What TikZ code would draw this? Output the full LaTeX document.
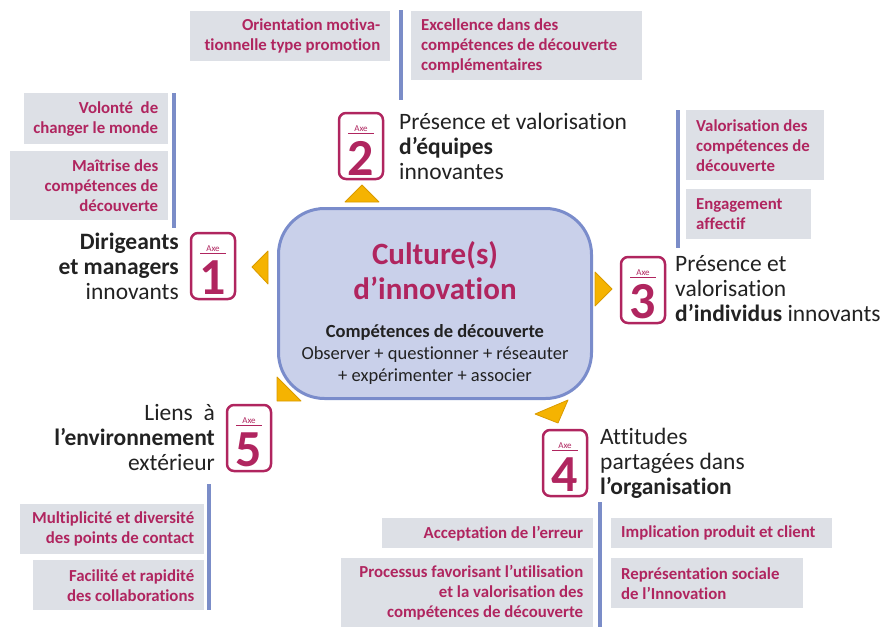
\documentclass[tikz,border=0pt]{standalone}
\usepackage{fontspec}
\setmainfont{Carlito}[Ligatures=CommonOff]
\usetikzlibrary{calc}

\definecolor{rasp}{HTML}{B0255F}
\definecolor{boxgrey}{HTML}{DDE0E6}
\definecolor{barblue}{HTML}{7B8DC8}
\definecolor{corefill}{HTML}{C9D0EA}
\definecolor{coreline}{HTML}{7A8CCB}
\definecolor{amber}{HTML}{F5B301}
\definecolor{amberdark}{HTML}{D99A00}
\definecolor{ink}{HTML}{222222}

\tikzset{
  gbox/.style={fill=boxgrey, inner sep=0pt, anchor=north west},
  gtext/.style={text=rasp, font=\bfseries\fontsize{16.8}{20}\selectfont, inner sep=0pt},
  bar/.style={draw=barblue, line width=4pt},
  axebox/.style={draw=rasp, line width=2.5pt, fill=white, rounded corners=7pt,
    minimum width=44pt, minimum height=66pt, inner sep=0pt},
  axetag/.style={text=rasp, font=\fontsize{9}{9}\selectfont, inner sep=0pt},
  axenum/.style={text=rasp, font=\bfseries\fontsize{52}{52}\selectfont, inner sep=0pt},
  axelabel/.style={text=ink, font=\fontsize{23.5}{25}\selectfont, inner sep=0pt},
  tri/.style={fill=amber, draw=amberdark, line width=0.8pt, line join=round},
  core/.style={draw=coreline, fill=corefill, line width=3pt, rounded corners=46pt,
    minimum width=313pt, minimum height=190pt, inner sep=0pt},
}

% axis badge: name, position, digit
\newcommand{\axeblock}[3]{%
  \node[axebox] (#1) at (#2) {};
  \node[axetag] (#1tag) at ($(#1.center)+(0,-17.5)$) {Axe};
  \draw[rasp, line width=0.8pt] ($(#1.center)+(-13,-12.5)$) coordinate (#1l) -- ($(#1.center)+(13,-12.5)$) coordinate (#1r);
  \node[axenum] (#1num) at ($(#1.center)+(0,12)$) {#3};
}
% grey factor box: name, top-left corner, width, height, text (right or left aligned)
\newcommand{\factorR}[5]{%
  \node[gbox, minimum width=#3pt, minimum height=#4pt] (#1) at (#2) {};
  \node[gtext, align=right, anchor=east] (#1t) at ($(#1.east)+(-10,0)$) {#5};
}
\newcommand{\factorL}[5]{%
  \node[gbox, minimum width=#3pt, minimum height=#4pt] (#1) at (#2) {};
  \node[gtext, align=left, anchor=west] (#1t) at ($(#1.west)+(10,0)$) {#5};
}

\begin{document}
\begin{tikzpicture}[x=1pt,y=-1pt]
\useasboundingbox (0,0) rectangle (880,627);

% central culture block
\node[core] (core) at (435,303.5) {};
\node[text=rasp, font=\bfseries\fontsize{31}{35}\selectfont, align=center, inner sep=0pt]
  (title) at (435,271) {Culture(s)\\d’innovation};
\node[text=ink, font=\fontsize{18.5}{22}\selectfont, align=center, inner sep=0pt]
  (skills) at (435,354) {\textbf{Compétences de découverte}\\Observer + questionner + réseauter\\+ expérimenter + associer};

% pointers around the central block
\fill[tri] (362,185) coordinate (t2) -- (379,202) -- (345,202) -- cycle;
\fill[tri] (252,267) coordinate (t1) -- (268,251) -- (268,284) -- cycle;
\fill[tri] (612,289) coordinate (t3) -- (595,272) -- (595,306) -- cycle;
\fill[tri] (277,401) coordinate (t5) -- (277,377) -- (301,401) -- cycle;
\fill[tri] (558,423) coordinate (t4) -- (535,414) -- (568,400) -- cycle;

% axis badges
\axeblock{a1}{213,266}{1}
\axeblock{a2}{361,146}{2}
\axeblock{a3}{643,290}{3}
\axeblock{a4}{565,463}{4}
\axeblock{a5}{249,438}{5}

% axis titles
\node[axelabel, align=right, anchor=east] (l1) at (179,266)
  {\textbf{Dirigeants}\\\textbf{et managers}\\innovants};
\node[axelabel, align=left, anchor=west] (l2) at (399,146)
  {Présence et valorisation\\\textbf{d’équipes}\\innovantes};
\node[axelabel, align=left, anchor=west] (l3) at (675,289)
  {Présence et\\valorisation\\\textbf{d’individus} innovants};
\node[axelabel, align=left, anchor=west] (l4) at (600,463)
  {Attitudes\\partagées dans\\\textbf{l’organisation}};
\node[axelabel, align=right, anchor=east] (l5) at (215,437)
  {Liens\ \ à\\\textbf{l’environnement}\\extérieur};

% separator bars
\coordinate (s2a) at (401,10);  \coordinate (s2b) at (401,100);
\coordinate (s1a) at (174,93);  \coordinate (s1b) at (174,228);
\coordinate (s3a) at (678,110); \coordinate (s3b) at (678,248);
\coordinate (s5a) at (209,484); \coordinate (s5b) at (209,610);
\coordinate (s4a) at (600,502); \coordinate (s4b) at (600,627);
\draw[bar] (s2a) -- (s2b);
\draw[bar] (s1a) -- (s1b);
\draw[bar] (s3a) -- (s3b);
\draw[bar] (s5a) -- (s5b);
\draw[bar] (s4a) -- (s4b);

% axis 2 factors
\factorR{b2a}{190,11}{200}{50}{Orientation motiva-\\tionnelle type promotion}
\factorL{b2b}{411,11}{231}{69}{Excellence dans des\\compétences de découverte\\complémentaires}

% axis 1 factors
\factorR{b1a}{24,93}{144}{51}{Volonté\ \ de\\changer le monde}
\factorR{b1b}{10,151}{158}{69}{Maîtrise des\\compétences de\\découverte}

% axis 3 factors
\factorL{b3a}{686,110}{138}{70}{Valorisation des\\compétences de\\découverte}
\factorL{b3b}{686,189}{125}{50}{Engagement\\affectif}

% axis 5 factors
\factorR{b5a}{20,504}{184}{50}{Multiplicité et diversité\\des points de contact}
\factorR{b5b}{33,560}{171}{50}{Facilité et rapidité\\des collaborations}

% axis 4 factors
\factorR{b4a}{382,518}{211}{30}{Acceptation de l’erreur}
\factorR{b4b}{341,558}{252}{69}{Processus favorisant l’utilisation\\et la valorisation des\\compétences de découverte}
\factorL{b4c}{611,518}{221}{30}{Implication produit et client}
\factorL{b4d}{611,558}{192}{50}{Représentation sociale\\de l’Innovation}
\end{tikzpicture}
\end{document}
